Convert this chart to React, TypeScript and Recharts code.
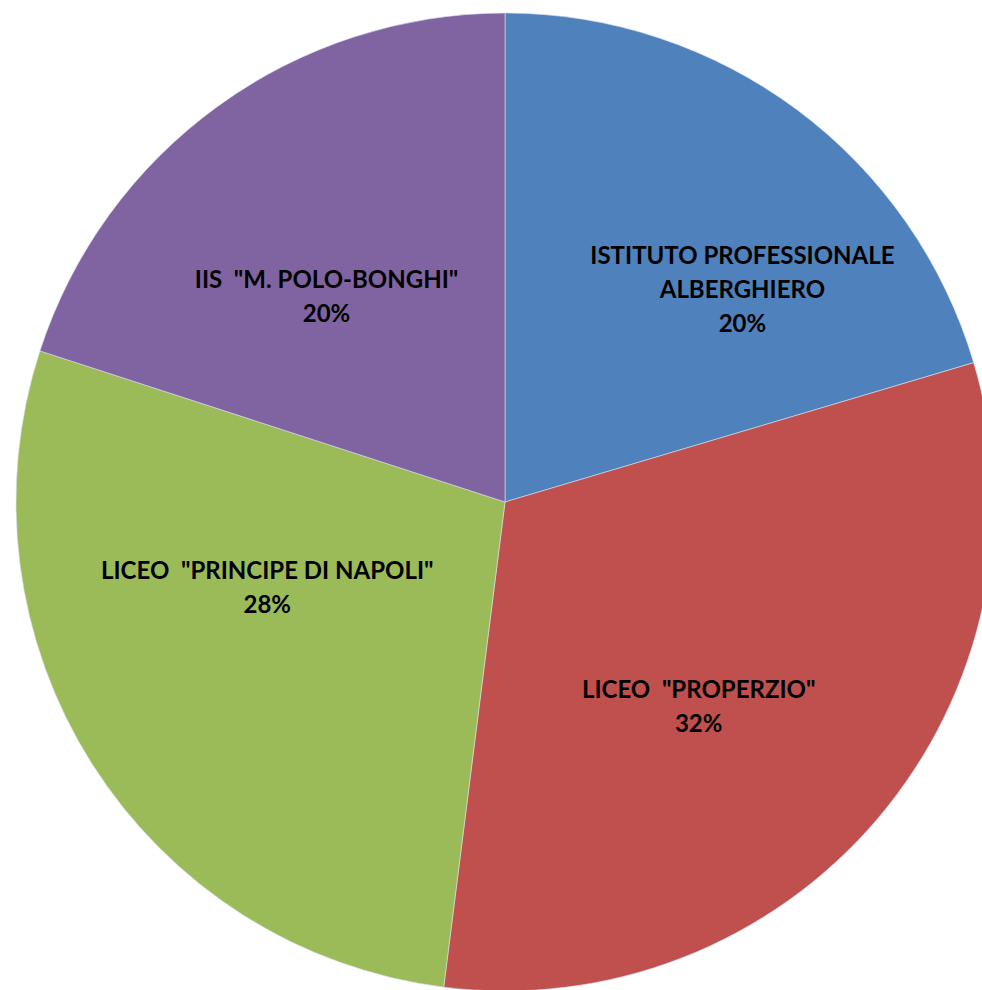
import { PieChart, Pie, Cell } from "recharts";

const schools = [
  "ISTITUTO PROFESSIONALE\nALBERGHIERO",
  'LICEO  "PROPERZIO"',
  'LICEO  "PRINCIPE DI NAPOLI"',
  'IIS  "M. POLO-BONGHI"',
];
const shares = [20.4, 31.6, 28, 20];
const colors = ["#4F81BD", "#C0504D", "#9BBB59", "#8064A2"];

const data = schools.map((name, i) => ({ name, value: shares[i] }));

// Excel's "best fit" placement, nudged from the mid-angle position
const labelShift = [
  [62, 21],
  [-30, 13],
  [10, -73],
  [-6, 30],
];

const RAD = Math.PI / 180;

const renderLabel = (props: any) => {
  const { cx, cy, midAngle, outerRadius, percent, index, name } = props;
  const r = outerRadius * 0.6;
  const x = cx + r * Math.cos(-midAngle * RAD) + labelShift[index][0];
  const y = cy + r * Math.sin(-midAngle * RAD) + labelShift[index][1];
  const lines = [...String(name).split("\n"), `${Math.round(percent * 100)}%`];
  const lh = 34;
  const top = y - ((lines.length - 1) * lh) / 2;
  return (
    <text
      x={x}
      y={top}
      textAnchor="middle"
      dominantBaseline="central"
      fill="#000"
      fontFamily="Lato, 'Open Sans', sans-serif"
      fontWeight="bold"
      fontSize={24}
      style={{ whiteSpace: "pre" }}
    >
      {lines.map((l, i) => (
        <tspan key={i} x={x} y={top + i * lh}>
          {l}
        </tspan>
      ))}
    </text>
  );
};

export default function App() {
  return (
    <div style={{ position: "fixed", left: 0, top: 0, width: 982, height: 990, background: "#fff" }}>
      <PieChart width={982} height={990} margin={{ top: 0, right: 0, bottom: 0, left: 0 }}>
        <Pie
          data={data}
          dataKey="value"
          nameKey="name"
          cx={505}
          cy={502}
          outerRadius={489}
          startAngle={90}
          endAngle={-270}
          stroke="#d9e1ec"
          strokeWidth={0.6}
          label={renderLabel}
          labelLine={false}
          isAnimationActive={false}
        >
          {data.map((d, i) => (
            <Cell key={d.name} fill={colors[i]} />
          ))}
        </Pie>
      </PieChart>
    </div>
  );
}
